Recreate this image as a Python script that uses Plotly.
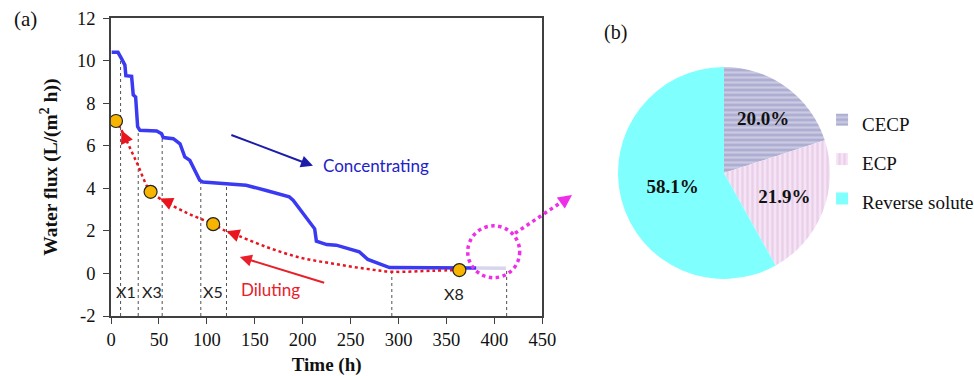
import plotly.graph_objects as go

# ---------------- data (panel a) ----------------
time_h = [0.7, 7.3, 11, 14.5, 15.5, 21.5, 23.2, 25.7, 27.8, 30.2, 47.6, 52.8, 54.5, 65, 72, 77,
          82.3, 85.7, 92.6, 96, 120.5, 141, 162, 186, 190, 196.5, 212.5, 214.3, 225, 235, 259,
          268, 290.6, 381]
flux = [10.4, 10.4, 10.1, 9.8, 9.3, 9.27, 8.4, 8.3, 6.9, 6.73, 6.7, 6.57, 6.39, 6.34, 6.1, 5.48,
        5.32, 5.0, 4.38, 4.3, 4.23, 4.15, 3.9, 3.6, 3.45, 3.06, 2.1, 1.52, 1.36, 1.33, 1.02,
        0.66, 0.28, 0.26]
faded_t = [381, 412]
faded_flux = [0.26, 0.24]

dil_t = [363.5, 336, 294, 266, 232, 197, 162, 127, 120.5, 106.6, 79, 51, 41.3, 26, 11, 5.2]
dil_flux = [0.16, 0.13, 0.08, 0.22, 0.46, 0.75, 1.25, 1.88, 1.98, 2.32, 2.85, 3.52, 3.84, 5.3, 6.73, 7.17]
# arrow heads on the diluting curve: (tip) and (a point just behind it)
dil_tip_t = [120.5, 51, 11]
dil_tip_f = [1.98, 3.52, 6.73]
dil_back_t = [125.5, 56, 13.5]
dil_back_f = [1.90, 3.42, 6.48]

sample_t = [5.2, 41.3, 106.6, 363.5]
sample_flux = [7.17, 3.84, 2.32, 0.16]

vline_t = [10, 28.4, 53.4, 93.7, 120.5, 293, 412.8]
vline_top = [10.0, 6.9, 6.57, 4.3, 4.23, 0.28, 0.12]
vline_bottom = -2

x_labels = ["X1", "X3", "X5", "X8"]
x_label_t = [15.6, 42.4, 106.6, 358]
x_label_f = [-0.85, -0.85, -0.85, -0.95]

x_ticks = [0, 50, 100, 150, 200, 250, 300, 350, 400, 450]
y_ticks = [-2, 0, 2, 4, 6, 8, 10, 12]

# ---------------- data (panel b) ----------------
pie_names = ["CECP", "ECP", "Reverse solute"]
pie_values = [20.0, 21.9, 58.1]
pie_colors = ["#aeaed2", "#f6e4f6", "#80ffff"]
pie_fg = ["#cacae2", "#e9cfe9", "#80ffff"]
pie_shapes = ["-", "|", ""]

SERIF = "Liberation Serif"
SANS = "Lato"

fig = go.Figure()

# vertical dotted guide lines
vx, vy = [], []
for t, top in zip(vline_t, vline_top):
    vx += [t, t, None]
    vy += [vline_bottom, top, None]
fig.add_trace(go.Scatter(x=vx, y=vy, mode="lines",
                         line=dict(color="#505050", width=1, dash="dot"),
                         hoverinfo="skip", showlegend=False))

# faded end of flux line
fig.add_trace(go.Scatter(x=faded_t, y=faded_flux, mode="lines",
                         line=dict(color="#d6d6ee", width=3.5), showlegend=False))
# flux line
fig.add_trace(go.Scatter(x=time_h, y=flux, mode="lines",
                         line=dict(color="#3a3af2", width=3.5), showlegend=False))
# diluting dotted curve
fig.add_trace(go.Scatter(x=dil_t, y=dil_flux, mode="lines", line_shape="spline",
                         line=dict(color="#e8141e", width=2.5, dash="dot"), showlegend=False))
# sample markers
fig.add_trace(go.Scatter(x=sample_t, y=sample_flux, mode="markers",
                         marker=dict(color="#f7b500", size=13, line=dict(color="#222", width=1.2)),
                         showlegend=False))

for tt, tf, bt, bf in zip(dil_tip_t, dil_tip_f, dil_back_t, dil_back_f):
    fig.add_annotation(x=tt, y=tf, ax=bt, ay=bf, xref="x", yref="y", axref="x", ayref="y",
                       text="", showarrow=True, arrowhead=2, arrowsize=1.3, arrowwidth=2,
                       arrowcolor="#e8141e")

for lab, t, f in zip(x_labels, x_label_t, x_label_f):
    fig.add_annotation(x=t, y=f, xref="x", yref="y", text=lab, showarrow=False,
                       font=dict(family=SANS, size=16, color="#222"))

# Concentrating arrow + text
fig.add_annotation(x=210.7, y=5.06, ax=124, ay=6.54, xref="x", yref="y", axref="x", ayref="y",
                   text="", showarrow=True, arrowhead=2, arrowsize=1.2, arrowwidth=2,
                   arrowcolor="#1c1caa")
fig.add_annotation(x=276.7, y=5.06, xref="x", yref="y", text="Concentrating", showarrow=False,
                   font=dict(family=SANS, size=17, color="#2222c8"))
# Diluting arrow + text
fig.add_annotation(x=134.4, y=0.78, ax=224, ay=-0.46, xref="x", yref="y", axref="x", ayref="y",
                   text="", showarrow=True, arrowhead=2, arrowsize=1.2, arrowwidth=2,
                   arrowcolor="#e8202a")
fig.add_annotation(x=166.5, y=-0.75, xref="x", yref="y", text="Diluting", showarrow=False,
                   font=dict(family=SANS, size=17, color="#e8202a"))

# magenta dotted circle & pointer
fig.add_shape(type="circle", xref="x", yref="y", x0=372.2, x1=426.4, y0=-0.2, y1=2.24,
              line=dict(color="#ee2ee8", width=3.5, dash="dot"))
fig.add_shape(type="line", xref="paper", yref="paper", x0=515 / 974, y0=1 - 233.3 / 376,
              x1=569 / 974, y1=1 - 197 / 376, line=dict(color="#ee2ee8", width=3.5, dash="dot"))
fig.add_annotation(x=572 / 974, y=1 - 195 / 376, xref="paper", yref="paper", ax=-7, ay=5,
                   text="", showarrow=True, arrowhead=2, arrowsize=1.1, arrowwidth=2.5,
                   arrowcolor="#ee2ee8")

# panel labels
fig.add_annotation(x=25 / 974, y=1 - 19 / 376, xref="paper", yref="paper", text="(a)",
                   xanchor="center", yanchor="middle",
                   showarrow=False, font=dict(family=SERIF, size=21, color="#111"))
fig.add_annotation(x=615 / 974, y=1 - 33 / 376, xref="paper", yref="paper", text="(b)",
                   xanchor="center", yanchor="middle",
                   showarrow=False, font=dict(family=SERIF, size=20, color="#111"))

# pie
fig.add_trace(go.Pie(
    labels=[f"<span style='font-size:19px'>{n}</span>" for n in pie_names],
    values=pie_values, sort=False, direction="clockwise", rotation=0,
    marker=dict(colors=pie_colors, line=dict(width=0),
                pattern=dict(shape=pie_shapes, fgcolor=pie_fg, bgcolor=pie_colors,
                             size=5, solidity=0.45, fillmode="replace")),
    texttemplate="<b>%{value:.1f}%</b>", textposition="inside",
    insidetextorientation="horizontal",
    textfont=dict(family=SERIF, size=19, color="#111"),
    domain=dict(x=[618 / 974, 830 / 974], y=[1 - 279 / 376, 1 - 67 / 376]),
    hoverinfo="skip", showlegend=True))

axis_common = dict(showline=True, linecolor="#404040", linewidth=1.6, mirror=True,
                   ticks="outside", ticklen=6, tickwidth=1.4, tickcolor="#404040",
                   showgrid=False, zeroline=False, automargin=False,
                   tickfont=dict(family=SERIF, size=18.5, color="#111"))

fig.update_layout(
    width=974, height=376, margin=dict(l=0, r=0, t=0, b=0, autoexpand=False),
    paper_bgcolor="white", plot_bgcolor="white",
    xaxis=dict(domain=[111 / 974, 542.3 / 974], range=[0, 450], tickvals=x_ticks,
               ticktext=[str(v) for v in x_ticks],
               title=dict(text="<b>Time (h)</b>", font=dict(family=SERIF, size=19, color="#111"),
                          standoff=11),
               **axis_common),
    yaxis=dict(domain=[1 - 316 / 376, 1 - 18.3 / 376], range=[-2, 12], tickvals=y_ticks,
               ticktext=[str(v) for v in y_ticks], ticklabelstandoff=4,
               title=dict(text="<b>Water flux (L/(m<sup>2</sup> h))</b>",
                          font=dict(family=SERIF, size=19.5, color="#111"), standoff=14),
               **axis_common),
    legend=dict(x=0.844, y=1 - 95 / 376, xanchor="left", yanchor="top",
                font=dict(family=SERIF, size=28, color="#111"), bgcolor="rgba(0,0,0,0)"),
)

fig.write_html("out.html")
